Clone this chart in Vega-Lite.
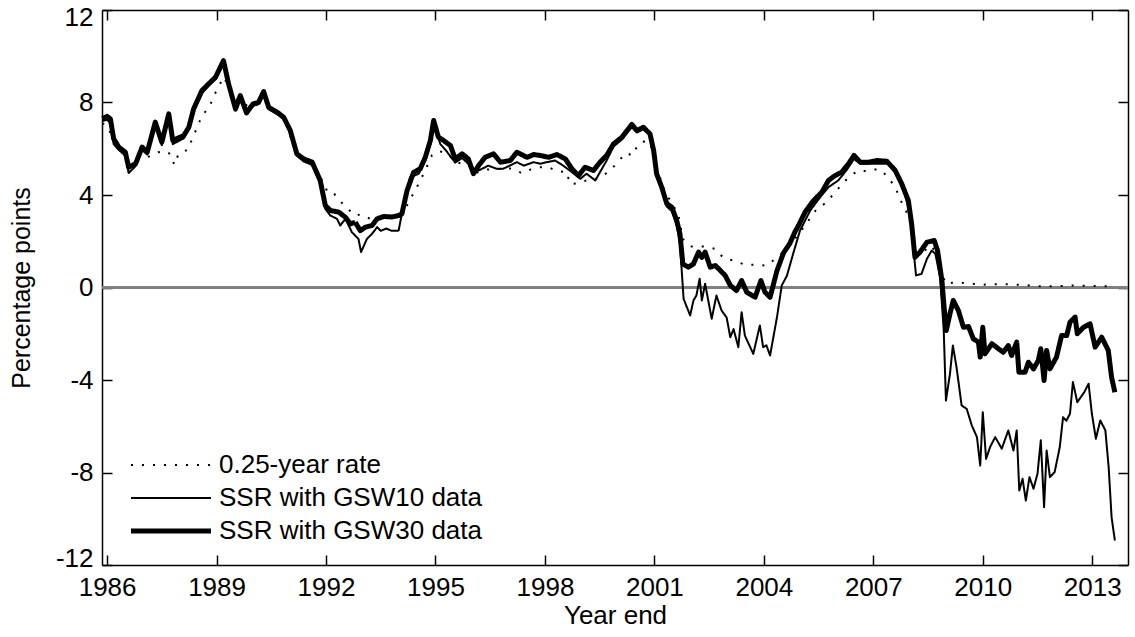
{
"$schema": "https://vega.github.io/schema/vega-lite/v6.json",
"width": 1026, "height": 555,
"autosize": "none",
"padding": {"left": 102, "top": 10, "right": 7, "bottom": 72},
"background": "white",
"config": {"view": {"stroke": null}, "font": "Liberation Sans", "line": {"strokeCap": "butt", "strokeJoin": "round"}},
"datasets": {"src": [
{"t":1985.87,"s":"a","v":7.3},{"t":1986.0,"s":"a","v":7.4},{"t":1986.09,"s":"a","v":7.29},{"t":1986.18,"s":"a","v":6.43},{"t":1986.32,"s":"a","v":6.07},{"t":1986.5,"s":"a","v":5.85},{"t":1986.59,"s":"a","v":5.2},{"t":1986.78,"s":"a","v":5.35},{"t":1986.96,"s":"a","v":6.07},{"t":1987.1,"s":"a","v":5.85},{"t":1987.32,"s":"a","v":7.15},{"t":1987.5,"s":"a","v":6.28},{"t":1987.69,"s":"a","v":7.51},{"t":1987.8,"s":"a","v":6.36},{"t":1988.1,"s":"a","v":6.57},{"t":1988.24,"s":"a","v":6.93},{"t":1988.37,"s":"a","v":7.72},{"t":1988.6,"s":"a","v":8.52},{"t":1988.83,"s":"a","v":8.88},{"t":1988.97,"s":"a","v":9.09},{"t":1989.19,"s":"a","v":9.81},{"t":1989.33,"s":"a","v":8.8},{"t":1989.52,"s":"a","v":7.72},{"t":1989.65,"s":"a","v":8.3},{"t":1989.82,"s":"a","v":7.55},{"t":1990.0,"s":"a","v":7.94},{"t":1990.15,"s":"a","v":8.0},{"t":1990.29,"s":"a","v":8.47},{"t":1990.43,"s":"a","v":7.79},{"t":1990.66,"s":"a","v":7.58},{"t":1990.84,"s":"a","v":7.36},{"t":1991.02,"s":"a","v":6.79},{"t":1991.2,"s":"a","v":5.78},{"t":1991.39,"s":"a","v":5.56},{"t":1991.62,"s":"a","v":5.42},{"t":1991.84,"s":"a","v":4.63},{"t":1991.98,"s":"a","v":3.55},{"t":1992.12,"s":"a","v":3.33},{"t":1992.35,"s":"a","v":3.26},{"t":1992.53,"s":"a","v":3.04},{"t":1992.67,"s":"a","v":2.75},{"t":1992.8,"s":"a","v":2.82},{"t":1992.94,"s":"a","v":2.46},{"t":1993.08,"s":"a","v":2.61},{"t":1993.26,"s":"a","v":2.68},{"t":1993.4,"s":"a","v":2.97},{"t":1993.58,"s":"a","v":3.07},{"t":1993.8,"s":"a","v":3.05},{"t":1993.99,"s":"a","v":3.11},{"t":1994.08,"s":"a","v":3.19},{"t":1994.22,"s":"a","v":4.19},{"t":1994.4,"s":"a","v":4.98},{"t":1994.58,"s":"a","v":5.13},{"t":1994.72,"s":"a","v":5.63},{"t":1994.86,"s":"a","v":6.36},{"t":1994.95,"s":"a","v":7.22},{"t":1995.08,"s":"a","v":6.5},{"t":1995.22,"s":"a","v":6.36},{"t":1995.41,"s":"a","v":6.14},{"t":1995.54,"s":"a","v":5.56},{"t":1995.73,"s":"a","v":5.78},{"t":1995.9,"s":"a","v":5.56},{"t":1996.04,"s":"a","v":4.92},{"t":1996.18,"s":"a","v":5.27},{"t":1996.36,"s":"a","v":5.63},{"t":1996.59,"s":"a","v":5.78},{"t":1996.78,"s":"a","v":5.42},{"t":1997.05,"s":"a","v":5.49},{"t":1997.23,"s":"a","v":5.85},{"t":1997.51,"s":"a","v":5.63},{"t":1997.69,"s":"a","v":5.75},{"t":1997.87,"s":"a","v":5.71},{"t":1998.1,"s":"a","v":5.63},{"t":1998.33,"s":"a","v":5.75},{"t":1998.56,"s":"a","v":5.56},{"t":1998.74,"s":"a","v":5.13},{"t":1998.92,"s":"a","v":4.84},{"t":1999.1,"s":"a","v":5.2},{"t":1999.33,"s":"a","v":5.06},{"t":1999.51,"s":"a","v":5.42},{"t":1999.69,"s":"a","v":5.71},{"t":1999.88,"s":"a","v":6.21},{"t":2000.11,"s":"a","v":6.5},{"t":2000.38,"s":"a","v":7.05},{"t":2000.52,"s":"a","v":6.79},{"t":2000.7,"s":"a","v":6.93},{"t":2000.88,"s":"a","v":6.64},{"t":2000.98,"s":"a","v":5.92},{"t":2001.06,"s":"a","v":4.92},{"t":2001.2,"s":"a","v":4.34},{"t":2001.34,"s":"a","v":3.62},{"t":2001.48,"s":"a","v":3.47},{"t":2001.61,"s":"a","v":2.9},{"t":2001.7,"s":"a","v":2.32},{"t":2001.78,"s":"a","v":1.02},{"t":2001.93,"s":"a","v":0.88},{"t":2002.07,"s":"a","v":1.02},{"t":2002.21,"s":"a","v":1.53},{"t":2002.3,"s":"a","v":1.3},{"t":2002.39,"s":"a","v":1.53},{"t":2002.53,"s":"a","v":0.88},{"t":2002.67,"s":"a","v":0.95},{"t":2002.76,"s":"a","v":0.81},{"t":2002.94,"s":"a","v":0.52},{"t":2003.08,"s":"a","v":0.09},{"t":2003.25,"s":"a","v":-0.13},{"t":2003.39,"s":"a","v":0.3},{"t":2003.53,"s":"a","v":-0.2},{"t":2003.76,"s":"a","v":-0.42},{"t":2003.92,"s":"a","v":0.3},{"t":2004.03,"s":"a","v":-0.2},{"t":2004.17,"s":"a","v":-0.42},{"t":2004.36,"s":"a","v":0.73},{"t":2004.54,"s":"a","v":1.5},{"t":2004.71,"s":"a","v":1.9},{"t":2004.85,"s":"a","v":2.4},{"t":2004.95,"s":"a","v":2.68},{"t":2005.13,"s":"a","v":3.26},{"t":2005.36,"s":"a","v":3.76},{"t":2005.59,"s":"a","v":4.12},{"t":2005.77,"s":"a","v":4.63},{"t":2005.95,"s":"a","v":4.84},{"t":2006.13,"s":"a","v":4.98},{"t":2006.32,"s":"a","v":5.35},{"t":2006.47,"s":"a","v":5.71},{"t":2006.64,"s":"a","v":5.42},{"t":2006.87,"s":"a","v":5.42},{"t":2007.1,"s":"a","v":5.49},{"t":2007.37,"s":"a","v":5.46},{"t":2007.6,"s":"a","v":5.06},{"t":2007.78,"s":"a","v":4.48},{"t":2007.96,"s":"a","v":3.76},{"t":2008.05,"s":"a","v":2.75},{"t":2008.14,"s":"a","v":1.31},{"t":2008.28,"s":"a","v":1.53},{"t":2008.47,"s":"a","v":1.96},{"t":2008.67,"s":"a","v":2.03},{"t":2008.76,"s":"a","v":1.6},{"t":2008.88,"s":"a","v":0.3},{"t":2008.94,"s":"a","v":-0.85},{"t":2009.0,"s":"a","v":-1.86},{"t":2009.1,"s":"a","v":-1.14},{"t":2009.19,"s":"a","v":-0.56},{"t":2009.33,"s":"a","v":-0.99},{"t":2009.47,"s":"a","v":-1.72},{"t":2009.61,"s":"a","v":-1.69},{"t":2009.74,"s":"a","v":-2.22},{"t":2009.88,"s":"a","v":-2.36},{"t":2009.93,"s":"a","v":-3.01},{"t":2010.0,"s":"a","v":-1.72},{"t":2010.06,"s":"a","v":-2.87},{"t":2010.25,"s":"a","v":-2.43},{"t":2010.43,"s":"a","v":-2.65},{"t":2010.56,"s":"a","v":-2.8},{"t":2010.7,"s":"a","v":-2.51},{"t":2010.79,"s":"a","v":-2.94},{"t":2010.93,"s":"a","v":-2.36},{"t":2010.99,"s":"a","v":-3.66},{"t":2011.16,"s":"a","v":-3.66},{"t":2011.25,"s":"a","v":-3.23},{"t":2011.39,"s":"a","v":-3.52},{"t":2011.52,"s":"a","v":-3.16},{"t":2011.59,"s":"a","v":-2.65},{"t":2011.68,"s":"a","v":-4.02},{"t":2011.75,"s":"a","v":-2.72},{"t":2011.84,"s":"a","v":-3.52},{"t":2012.02,"s":"a","v":-3.01},{"t":2012.16,"s":"a","v":-2.08},{"t":2012.3,"s":"a","v":-2.08},{"t":2012.39,"s":"a","v":-1.5},{"t":2012.53,"s":"a","v":-1.28},{"t":2012.59,"s":"a","v":-2.0},{"t":2012.76,"s":"a","v":-1.72},{"t":2012.94,"s":"a","v":-1.57},{"t":2013.08,"s":"a","v":-2.58},{"t":2013.26,"s":"a","v":-2.15},{"t":2013.44,"s":"a","v":-2.72},{"t":2013.53,"s":"a","v":-3.88},{"t":2013.62,"s":"a","v":-4.53},
{"t":1985.87,"s":"b","v":7.2},{"t":1986.0,"s":"b","v":7.25},{"t":1986.09,"s":"b","v":7.1},{"t":1986.18,"s":"b","v":6.2},{"t":1986.32,"s":"b","v":5.95},{"t":1986.5,"s":"b","v":5.7},{"t":1986.59,"s":"b","v":4.95},{"t":1986.78,"s":"b","v":5.25},{"t":1986.96,"s":"b","v":5.95},{"t":1987.1,"s":"b","v":5.75},{"t":1987.32,"s":"b","v":7.0},{"t":1987.5,"s":"b","v":6.15},{"t":1987.69,"s":"b","v":7.4},{"t":1987.8,"s":"b","v":6.2},{"t":1988.1,"s":"b","v":6.45},{"t":1988.24,"s":"b","v":6.85},{"t":1988.37,"s":"b","v":7.6},{"t":1988.6,"s":"b","v":8.4},{"t":1988.83,"s":"b","v":8.8},{"t":1988.97,"s":"b","v":9.0},{"t":1989.19,"s":"b","v":9.7},{"t":1989.33,"s":"b","v":8.7},{"t":1989.52,"s":"b","v":7.65},{"t":1989.65,"s":"b","v":8.2},{"t":1989.82,"s":"b","v":7.5},{"t":1990.0,"s":"b","v":7.85},{"t":1990.15,"s":"b","v":7.95},{"t":1990.29,"s":"b","v":8.4},{"t":1990.43,"s":"b","v":7.7},{"t":1990.66,"s":"b","v":7.5},{"t":1990.84,"s":"b","v":7.3},{"t":1991.02,"s":"b","v":6.7},{"t":1991.2,"s":"b","v":5.7},{"t":1991.39,"s":"b","v":5.45},{"t":1991.62,"s":"b","v":5.3},{"t":1991.84,"s":"b","v":4.5},{"t":1991.98,"s":"b","v":3.4},{"t":1992.12,"s":"b","v":3.11},{"t":1992.3,"s":"b","v":2.97},{"t":1992.39,"s":"b","v":2.68},{"t":1992.53,"s":"b","v":2.97},{"t":1992.71,"s":"b","v":2.39},{"t":1992.89,"s":"b","v":2.1},{"t":1992.96,"s":"b","v":1.53},{"t":1993.12,"s":"b","v":2.1},{"t":1993.26,"s":"b","v":2.32},{"t":1993.4,"s":"b","v":2.61},{"t":1993.5,"s":"b","v":2.45},{"t":1993.65,"s":"b","v":2.55},{"t":1993.8,"s":"b","v":2.45},{"t":1993.99,"s":"b","v":2.46},{"t":1994.13,"s":"b","v":3.62},{"t":1994.3,"s":"b","v":4.76},{"t":1994.54,"s":"b","v":4.92},{"t":1994.72,"s":"b","v":5.48},{"t":1994.86,"s":"b","v":6.2},{"t":1994.95,"s":"b","v":7.15},{"t":1995.13,"s":"b","v":6.21},{"t":1995.3,"s":"b","v":5.9},{"t":1995.54,"s":"b","v":5.4},{"t":1995.73,"s":"b","v":5.6},{"t":1995.9,"s":"b","v":5.35},{"t":1996.04,"s":"b","v":4.99},{"t":1996.18,"s":"b","v":5.06},{"t":1996.45,"s":"b","v":5.27},{"t":1996.68,"s":"b","v":5.13},{"t":1996.85,"s":"b","v":5.13},{"t":1997.23,"s":"b","v":5.42},{"t":1997.42,"s":"b","v":5.27},{"t":1997.69,"s":"b","v":5.42},{"t":1997.87,"s":"b","v":5.35},{"t":1998.05,"s":"b","v":5.42},{"t":1998.28,"s":"b","v":5.49},{"t":1998.5,"s":"b","v":5.27},{"t":1998.74,"s":"b","v":4.99},{"t":1998.97,"s":"b","v":4.7},{"t":1999.14,"s":"b","v":4.92},{"t":1999.38,"s":"b","v":4.63},{"t":1999.56,"s":"b","v":5.13},{"t":1999.69,"s":"b","v":5.49},{"t":1999.88,"s":"b","v":6.1},{"t":2000.11,"s":"b","v":6.4},{"t":2000.38,"s":"b","v":6.95},{"t":2000.52,"s":"b","v":6.7},{"t":2000.7,"s":"b","v":6.85},{"t":2000.88,"s":"b","v":6.6},{"t":2000.98,"s":"b","v":5.85},{"t":2001.06,"s":"b","v":4.85},{"t":2001.2,"s":"b","v":4.25},{"t":2001.34,"s":"b","v":3.5},{"t":2001.48,"s":"b","v":3.3},{"t":2001.61,"s":"b","v":2.7},{"t":2001.7,"s":"b","v":1.9},{"t":2001.8,"s":"b","v":-0.49},{"t":2001.98,"s":"b","v":-1.21},{"t":2002.07,"s":"b","v":-0.56},{"t":2002.15,"s":"b","v":-0.35},{"t":2002.24,"s":"b","v":0.38},{"t":2002.3,"s":"b","v":-0.56},{"t":2002.39,"s":"b","v":0.16},{"t":2002.57,"s":"b","v":-1.35},{"t":2002.7,"s":"b","v":-0.35},{"t":2002.84,"s":"b","v":-0.99},{"t":2002.98,"s":"b","v":-1.3},{"t":2003.08,"s":"b","v":-2.15},{"t":2003.17,"s":"b","v":-1.8},{"t":2003.3,"s":"b","v":-2.58},{"t":2003.39,"s":"b","v":-1.07},{"t":2003.48,"s":"b","v":-2.08},{"t":2003.71,"s":"b","v":-2.87},{"t":2003.89,"s":"b","v":-1.64},{"t":2003.98,"s":"b","v":-2.58},{"t":2004.07,"s":"b","v":-2.5},{"t":2004.17,"s":"b","v":-2.94},{"t":2004.36,"s":"b","v":-1.28},{"t":2004.49,"s":"b","v":0.09},{"t":2004.63,"s":"b","v":0.5},{"t":2004.81,"s":"b","v":1.5},{"t":2004.99,"s":"b","v":2.46},{"t":2005.27,"s":"b","v":3.33},{"t":2005.54,"s":"b","v":3.9},{"t":2005.77,"s":"b","v":4.34},{"t":2006.04,"s":"b","v":4.63},{"t":2006.26,"s":"b","v":5.06},{"t":2006.47,"s":"b","v":5.56},{"t":2006.64,"s":"b","v":5.35},{"t":2006.9,"s":"b","v":5.35},{"t":2007.2,"s":"b","v":5.35},{"t":2007.47,"s":"b","v":5.35},{"t":2007.64,"s":"b","v":4.84},{"t":2007.82,"s":"b","v":4.27},{"t":2007.96,"s":"b","v":3.47},{"t":2008.05,"s":"b","v":2.46},{"t":2008.17,"s":"b","v":0.52},{"t":2008.32,"s":"b","v":0.59},{"t":2008.47,"s":"b","v":1.24},{"t":2008.6,"s":"b","v":1.6},{"t":2008.7,"s":"b","v":1.46},{"t":2008.83,"s":"b","v":0.45},{"t":2008.93,"s":"b","v":-1.86},{"t":2008.99,"s":"b","v":-4.89},{"t":2009.1,"s":"b","v":-3.74},{"t":2009.18,"s":"b","v":-2.51},{"t":2009.28,"s":"b","v":-3.44},{"t":2009.42,"s":"b","v":-5.1},{"t":2009.56,"s":"b","v":-5.25},{"t":2009.7,"s":"b","v":-5.97},{"t":2009.84,"s":"b","v":-6.47},{"t":2009.93,"s":"b","v":-7.7},{"t":2010.0,"s":"b","v":-5.39},{"t":2010.09,"s":"b","v":-7.41},{"t":2010.2,"s":"b","v":-6.9},{"t":2010.34,"s":"b","v":-6.47},{"t":2010.52,"s":"b","v":-6.97},{"t":2010.7,"s":"b","v":-6.18},{"t":2010.84,"s":"b","v":-7.05},{"t":2010.93,"s":"b","v":-6.18},{"t":2011.0,"s":"b","v":-8.78},{"t":2011.09,"s":"b","v":-8.27},{"t":2011.18,"s":"b","v":-9.21},{"t":2011.28,"s":"b","v":-8.2},{"t":2011.39,"s":"b","v":-8.7},{"t":2011.5,"s":"b","v":-8.05},{"t":2011.59,"s":"b","v":-6.61},{"t":2011.68,"s":"b","v":-9.5},{"t":2011.75,"s":"b","v":-7.05},{"t":2011.84,"s":"b","v":-8.2},{"t":2011.97,"s":"b","v":-7.98},{"t":2012.11,"s":"b","v":-6.9},{"t":2012.2,"s":"b","v":-5.61},{"t":2012.29,"s":"b","v":-5.76},{"t":2012.39,"s":"b","v":-5.46},{"t":2012.47,"s":"b","v":-4.09},{"t":2012.59,"s":"b","v":-4.96},{"t":2012.78,"s":"b","v":-4.53},{"t":2012.9,"s":"b","v":-4.16},{"t":2012.99,"s":"b","v":-5.46},{"t":2013.1,"s":"b","v":-6.54},{"t":2013.22,"s":"b","v":-5.75},{"t":2013.36,"s":"b","v":-6.18},{"t":2013.45,"s":"b","v":-7.77},{"t":2013.53,"s":"b","v":-9.93},{"t":2013.62,"s":"b","v":-10.94},
{"t":1985.87,"s":"c","v":7.1},{"t":1986.0,"s":"c","v":7.0},{"t":1986.2,"s":"c","v":6.3},{"t":1986.4,"s":"c","v":5.9},{"t":1986.6,"s":"c","v":5.5},{"t":1986.8,"s":"c","v":5.5},{"t":1987.0,"s":"c","v":5.6},{"t":1987.14,"s":"c","v":5.66},{"t":1987.4,"s":"c","v":5.85},{"t":1987.6,"s":"c","v":5.9},{"t":1987.75,"s":"c","v":5.75},{"t":1987.84,"s":"c","v":5.3},{"t":1987.96,"s":"c","v":5.78},{"t":1988.22,"s":"c","v":5.97},{"t":1988.33,"s":"c","v":6.43},{"t":1988.47,"s":"c","v":6.93},{"t":1988.6,"s":"c","v":7.44},{"t":1988.8,"s":"c","v":7.79},{"t":1988.92,"s":"c","v":8.27},{"t":1989.08,"s":"c","v":8.76},{"t":1989.2,"s":"c","v":9.1},{"t":1989.31,"s":"c","v":8.73},{"t":1989.5,"s":"c","v":8.2},{"t":1989.7,"s":"c","v":8.0},{"t":1989.9,"s":"c","v":7.8},{"t":1990.1,"s":"c","v":7.9},{"t":1990.3,"s":"c","v":8.1},{"t":1990.5,"s":"c","v":7.8},{"t":1990.7,"s":"c","v":7.5},{"t":1990.9,"s":"c","v":7.1},{"t":1991.1,"s":"c","v":6.2},{"t":1991.3,"s":"c","v":5.7},{"t":1991.5,"s":"c","v":5.6},{"t":1991.7,"s":"c","v":5.2},{"t":1991.9,"s":"c","v":4.6},{"t":1992.05,"s":"c","v":4.1},{"t":1992.21,"s":"c","v":4.08},{"t":1992.39,"s":"c","v":3.73},{"t":1992.6,"s":"c","v":3.4},{"t":1992.8,"s":"c","v":3.11},{"t":1992.95,"s":"c","v":3.16},{"t":1993.21,"s":"c","v":2.97},{"t":1993.5,"s":"c","v":3.0},{"t":1993.8,"s":"c","v":3.05},{"t":1994.0,"s":"c","v":3.1},{"t":1994.2,"s":"c","v":3.5},{"t":1994.49,"s":"c","v":4.34},{"t":1994.7,"s":"c","v":5.0},{"t":1994.9,"s":"c","v":5.71},{"t":1995.1,"s":"c","v":5.9},{"t":1995.3,"s":"c","v":5.8},{"t":1995.6,"s":"c","v":5.4},{"t":1995.9,"s":"c","v":5.3},{"t":1996.1,"s":"c","v":4.95},{"t":1996.4,"s":"c","v":5.1},{"t":1996.78,"s":"c","v":5.13},{"t":1997.1,"s":"c","v":5.15},{"t":1997.37,"s":"c","v":4.94},{"t":1997.6,"s":"c","v":5.1},{"t":1997.87,"s":"c","v":5.2},{"t":1998.1,"s":"c","v":5.2},{"t":1998.33,"s":"c","v":5.03},{"t":1998.6,"s":"c","v":4.99},{"t":1998.68,"s":"c","v":4.48},{"t":1998.87,"s":"c","v":4.5},{"t":1999.14,"s":"c","v":4.63},{"t":1999.4,"s":"c","v":4.7},{"t":1999.6,"s":"c","v":4.85},{"t":1999.79,"s":"c","v":5.06},{"t":2000.01,"s":"c","v":5.45},{"t":2000.22,"s":"c","v":5.82},{"t":2000.4,"s":"c","v":5.71},{"t":2000.56,"s":"c","v":6.21},{"t":2000.79,"s":"c","v":6.36},{"t":2000.95,"s":"c","v":6.0},{"t":2001.1,"s":"c","v":5.0},{"t":2001.3,"s":"c","v":4.1},{"t":2001.52,"s":"c","v":3.55},{"t":2001.66,"s":"c","v":3.11},{"t":2001.78,"s":"c","v":2.1},{"t":2002.02,"s":"c","v":1.77},{"t":2002.34,"s":"c","v":1.77},{"t":2002.67,"s":"c","v":1.67},{"t":2002.89,"s":"c","v":1.28},{"t":2003.16,"s":"c","v":1.17},{"t":2003.49,"s":"c","v":0.98},{"t":2003.76,"s":"c","v":0.98},{"t":2004.08,"s":"c","v":0.95},{"t":2004.36,"s":"c","v":1.3},{"t":2004.6,"s":"c","v":1.6},{"t":2004.85,"s":"c","v":2.1},{"t":2005.13,"s":"c","v":2.68},{"t":2005.45,"s":"c","v":3.4},{"t":2005.73,"s":"c","v":3.69},{"t":2005.91,"s":"c","v":4.05},{"t":2006.32,"s":"c","v":4.77},{"t":2006.59,"s":"c","v":5.06},{"t":2006.84,"s":"c","v":5.03},{"t":2007.14,"s":"c","v":5.13},{"t":2007.37,"s":"c","v":4.84},{"t":2007.6,"s":"c","v":4.34},{"t":2007.73,"s":"c","v":3.83},{"t":2007.91,"s":"c","v":3.26},{"t":2008.05,"s":"c","v":2.6},{"t":2008.2,"s":"c","v":1.4},{"t":2008.35,"s":"c","v":1.5},{"t":2008.56,"s":"c","v":1.82},{"t":2008.75,"s":"c","v":1.5},{"t":2008.9,"s":"c","v":0.5},{"t":2009.0,"s":"c","v":0.15},{"t":2009.24,"s":"c","v":0.23},{"t":2009.6,"s":"c","v":0.18},{"t":2010.0,"s":"c","v":0.12},{"t":2010.5,"s":"c","v":0.15},{"t":2011.0,"s":"c","v":0.12},{"t":2011.5,"s":"c","v":0.06},{"t":2012.0,"s":"c","v":0.05},{"t":2012.5,"s":"c","v":0.09},{"t":2013.0,"s":"c","v":0.07},{"t":2013.62,"s":"c","v":0.04}
]},
"data": {"name": "src"},
"layer": [
{"mark": {"type": "rule", "color": "#808080", "strokeWidth": 1.3},
 "encoding": {"y": {"datum": 0, "type": "quantitative", "axis": null}}},
{"mark": {"type": "line", "color": "black"},
 "encoding": {
  "x": {"field": "t", "type": "quantitative",
        "scale": {"domain": [1985.86, 2013.98], "nice": false, "zero": false},
        "axis": {"orient": "bottom", "values": [1986,1989,1992,1995,1998,2001,2004,2007,2010,2013],
                 "labelExpr": "'' + datum.value", "title": "Year end", "grid": false,
                 "tickSize": -10, "labelPadding": 19, "labelFlush": false, "labelOverlap": false,
                 "labelFontSize": 26, "titleFontSize": 26, "titleFontWeight": "normal",
                 "labelColor": "black", "titleColor": "black", "domainColor": "black", "tickColor": "black",
                 "domainWidth": 1.5, "tickWidth": 1.5, "titlePadding": 2}},
  "y": {"field": "v", "type": "quantitative",
        "scale": {"domain": [-12, 12], "nice": false, "zero": false},
        "axis": {"orient": "left", "values": [-12,-8,-4,0,4,8,12],
                 "labelExpr": "'' + datum.value", "title": "Percentage points", "grid": false,
                 "tickSize": -10, "labelPadding": 19, "labelFlush": true, "labelFlushOffset": 6, "labelOverlap": false,
                 "labelFontSize": 26, "titleFontSize": 25, "titleFontWeight": "normal",
                 "labelColor": "black", "titleColor": "black", "domainColor": "black", "tickColor": "black",
                 "domainWidth": 1.5, "tickWidth": 1.5, "titlePadding": 21}},
  "strokeDash": {"field": "s", "type": "nominal",
        "scale": {"domain": ["c", "b", "a"], "range": [[2, 9], [1, 0], [1, 0]]},
        "legend": {"orient": "none", "legendX": 56, "legendY": 442, "title": null, "direction": "vertical",
                   "labelFontSize": 26, "labelColor": "black", "symbolType": "M-4,0L4,0", "symbolSize": 400,
                   "symbolStrokeColor": "black", "labelOffset": 35, "rowPadding": 7, "padding": 0, "labelLimit": 500,
                   "labelExpr": "datum.label == 'a' ? 'SSR with GSW30 data' : datum.label == 'b' ? 'SSR with GSW10 data' : '0.25-year rate'"}},
  "strokeWidth": {"field": "s", "type": "nominal",
        "scale": {"type": "ordinal", "domain": ["c", "b", "a"], "range": [2, 2, 5]},
        "legend": {"orient": "none", "legendX": 56, "legendY": 442, "title": null, "direction": "vertical",
                   "labelFontSize": 26, "labelColor": "black", "symbolType": "M-4,0L4,0", "symbolSize": 400,
                   "symbolStrokeColor": "black", "labelOffset": 35, "rowPadding": 7, "padding": 0, "labelLimit": 500,
                   "labelExpr": "datum.label == 'a' ? 'SSR with GSW30 data' : datum.label == 'b' ? 'SSR with GSW10 data' : '0.25-year rate'"}}
 }},
{"mark": {"type": "line", "opacity": 0},
 "encoding": {
  "x": {"field": "t", "type": "quantitative",
        "scale": {"domain": [1985.86, 2013.98], "nice": false, "zero": false},
        "axis": {"orient": "top", "values": [1986,1989,1992,1995,1998,2001,2004,2007,2010,2013],
                 "labels": false, "title": null, "grid": false, "tickSize": -10,
                 "domainColor": "black", "tickColor": "black", "domainWidth": 1.5, "tickWidth": 1.5}},
  "y": {"field": "v", "type": "quantitative",
        "scale": {"domain": [-12, 12], "nice": false, "zero": false},
        "axis": {"orient": "right", "values": [-12,-8,-4,0,4,8,12],
                 "labels": false, "title": null, "grid": false, "tickSize": -10,
                 "domainColor": "black", "tickColor": "black", "domainWidth": 1.5, "tickWidth": 1.5}},
  "detail": {"field": "s", "type": "nominal"}
 }}
],
"resolve": {"axis": {"x": "independent", "y": "independent"}}
}
